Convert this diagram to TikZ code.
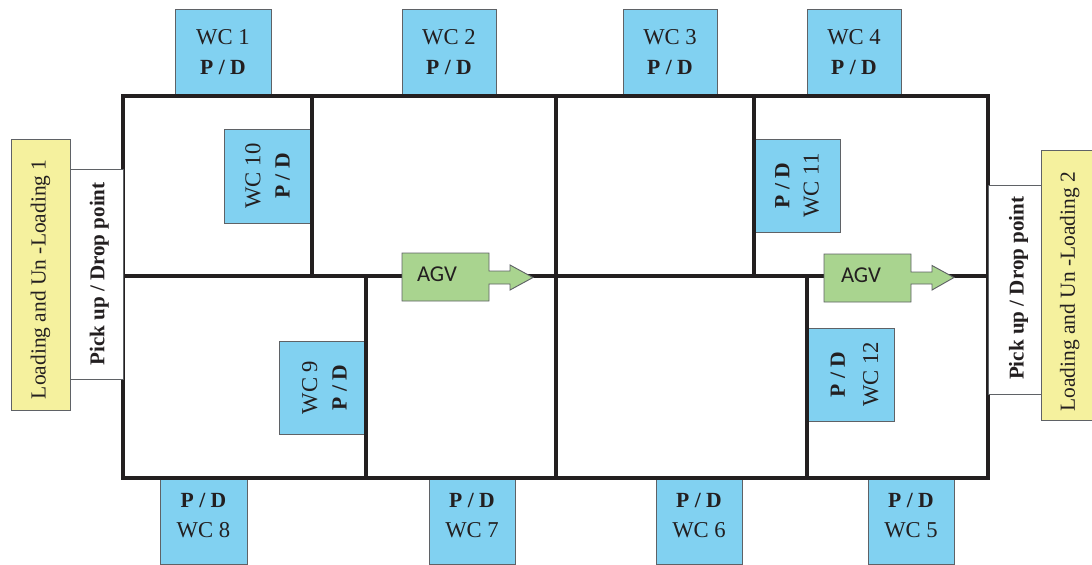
\documentclass[tikz,border=0pt]{standalone}
\usepackage{fontspec}
\setmainfont{Liberation Serif}
\newfontfamily\agvfont{Carlito}
\definecolor{wcblue}{HTML}{81D1F1}
\definecolor{loadyellow}{HTML}{F5F19E}
\definecolor{agvgreen}{HTML}{A9D48F}
\definecolor{edgegray}{HTML}{5F6266}
\definecolor{wallblack}{HTML}{231F20}
\tikzset{
  wcbox/.style={draw=edgegray,line width=0.7pt,fill=wcblue,inner sep=0pt,align=center,text=wallblack,font=\fontsize{17}{22}\selectfont},
  loadbox/.style={draw=edgegray,line width=0.7pt,fill=loadyellow,inner sep=0pt,align=center,text=wallblack,font=\fontsize{16.1}{18}\selectfont},
  pickbox/.style={draw=edgegray,line width=0.6pt,fill=white,inner sep=0pt,align=center,text=wallblack,font=\fontsize{15.8}{18}\selectfont\bfseries},
  wall/.style={draw=wallblack,line width=2.4pt,line cap=rect},
  agvshape/.style={draw=edgegray,line width=0.7pt,fill=agvgreen,line join=miter},
  agvtext/.style={inner sep=0pt,text=wallblack,font=\agvfont\fontsize{17}{18}\selectfont},
}
% #1 name, #2 x0, #3 y0, #4 x1, #5 y1, #6 style options, #7 text
\newcommand{\pxbox}[7]{%
  \path (#2,#3) -- coordinate (#1c) (#4,#5);
  \pgfmathsetmacro{\bw}{0.75*(#4-#2)}%
  \pgfmathsetmacro{\bh}{0.75*(#5-#3)}%
  \node[#6,minimum width=\bw pt,minimum height=\bh pt] (#1) at (#1c) {#7};
}
% rotated variant: width and height exchanged in the node's own frame
\newcommand{\pxrot}[7]{%
  \path (#2,#3) -- coordinate (#1c) (#4,#5);
  \pgfmathsetmacro{\bw}{0.75*(#5-#3)}%
  \pgfmathsetmacro{\bh}{0.75*(#4-#2)}%
  \node[#6,rotate=90,minimum width=\bw pt,minimum height=\bh pt] (#1) at (#1c) {#7};
}
\newcommand{\pd}{{\fontsize{16.2}{22}\selectfont\textbf{P / D}}}
\newcommand{\lift}{\rule[-9pt]{0pt}{9pt}}
\begin{document}
\begin{tikzpicture}[x=0.75pt,y=-0.75pt]
\useasboundingbox (0,0) rectangle (1092,564);
% work centres
\pxbox{wc1}{175}{9}{271}{95}{wcbox}{WC 1\\\pd}
\pxbox{wc2}{402}{9}{496}{95}{wcbox}{WC 2\\\pd}
\pxbox{wc3}{623}{9}{717}{95}{wcbox}{WC 3\\\pd}
\pxbox{wc4}{807}{9}{901}{95}{wcbox}{WC 4\\\pd}
\pxbox{wc8}{160}{479}{247}{564}{wcbox}{\pd\\WC 8\lift}
\pxbox{wc7}{429}{479}{515}{564}{wcbox}{\pd\\WC 7\lift}
\pxbox{wc6}{656}{479}{742}{564}{wcbox}{\pd\\WC 6\lift}
\pxbox{wc5}{868}{479}{954}{564}{wcbox}{\pd\\WC 5\lift}
\pxrot{wc10}{224}{129}{311}{223}{wcbox}{WC 10\\\pd}
\pxrot{wc9}{279}{341}{365}{434}{wcbox}{\rule{0pt}{15pt}WC 9\\\pd}
\pxrot{wc11}{754}{139}{840}{232}{wcbox}{\pd\\WC 11}
\pxrot{wc12}{808}{328}{894}{421}{wcbox}{\rule{0pt}{16pt}\pd\\[3pt]WC 12}
% walls
\draw[wall] (123,96) rectangle (988,478);
\draw[wall] (123,276) -- (988,276);
\draw[wall] (312,96) -- (312,276);
\draw[wall] (556,96) -- (556,478);
\draw[wall] (754,96) -- (754,276);
\draw[wall] (366,276) -- (366,478);
\draw[wall] (807,276) -- (807,478);
% pick up and loading stations
\pxrot{pick1}{70}{169}{123}{379}{pickbox}{\rule{0pt}{15pt}Pick up / Drop point}
\pxrot{pick2}{988}{185}{1041}{394}{pickbox}{\rule{0pt}{17pt}\hspace*{2pt}Pick up / Drop point}
\pxrot{load1}{11}{139}{70}{410}{loadbox}{Loading and Un -Loading 1\hspace*{7pt}}
\pxrot{load2}{1041}{150}{1092}{420}{loadbox}{\rule{0pt}{16pt}Loading and Un -Loading 2\hspace*{10pt}}
% AGVs
\draw[agvshape] (402,253) -- (489,253) -- (489,271) -- (510,271) -- (510,265) -- (533,277.5) -- (510,290) -- (510,284) -- (489,284) -- (489,301) -- (402,301) -- cycle;
\node[agvtext] (agv1) at (437,274) {AGV};
\draw[agvshape] (824,254) -- (911,254) -- (911,272) -- (932,272) -- (932,265.5) -- (954,277.5) -- (932,290) -- (932,284) -- (911,284) -- (911,302) -- (824,302) -- cycle;
\node[agvtext] (agv2) at (861,275) {AGV};
\end{tikzpicture}
\end{document}
